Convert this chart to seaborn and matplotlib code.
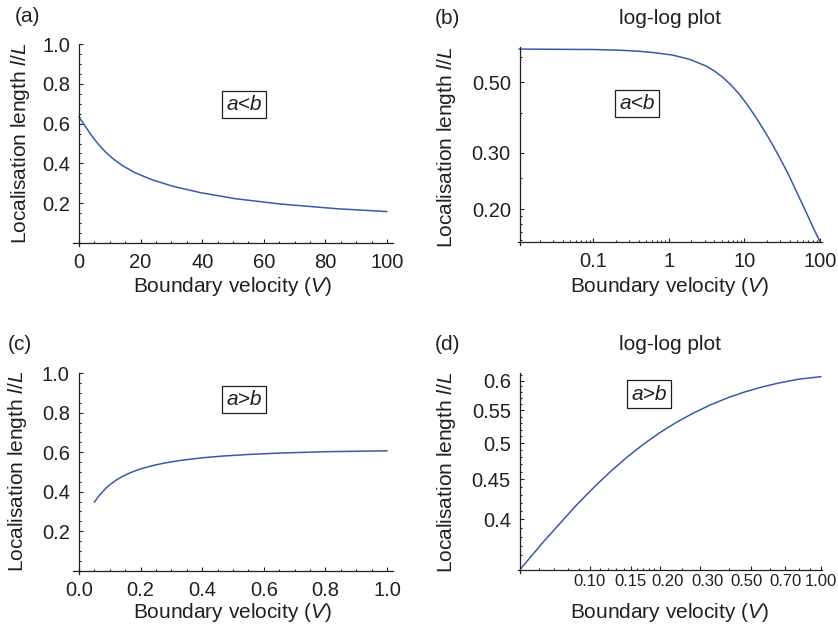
import matplotlib
matplotlib.use("Agg")
import matplotlib.pyplot as plt
import seaborn as sns
from matplotlib.ticker import MultipleLocator, FixedLocator, NullFormatter
from matplotlib.transforms import ScaledTranslation

sns.set_style("ticks")
plt.rcParams['font.family'] = ['Liberation Sans', 'DejaVu Sans']
plt.rcParams['mathtext.fontset'] = 'custom'
plt.rcParams['mathtext.rm'] = 'Liberation Sans'
plt.rcParams['mathtext.it'] = 'Liberation Sans:italic'

INK = '#231f20'
BLUE = '#3a5aa8'

# a<b curve (panels a and b)
v_lt = [0, 0.0105, 0.03, 0.1, 0.22, 0.41, 0.68, 1.13, 1.88, 3.12, 4.02, 5.17, 6.67,
        8.6, 11.1, 14.3, 18.4, 23.7, 30.5, 39.3, 50.6, 65.3, 84, 100]
l_lt = [0.635, 0.635, 0.634, 0.633, 0.630, 0.625, 0.618, 0.608, 0.590, 0.562, 0.542,
        0.518, 0.490, 0.458, 0.423, 0.387, 0.352, 0.318, 0.285, 0.2535, 0.223, 0.196,
        0.172, 0.158]

# a>b curve (panels c and d)
v_gt = [0.05, 0.0627, 0.0876, 0.105, 0.122, 0.145, 0.17, 0.2, 0.237, 0.28, 0.332,
        0.4, 0.464, 0.55, 0.648, 0.8, 1.0]
l_gt = [0.346, 0.3743, 0.4174, 0.4405, 0.4593, 0.4801, 0.498, 0.5151, 0.5313, 0.5457,
        0.5589, 0.5715, 0.5801, 0.5885, 0.5954, 0.6025, 0.607]

ylab = 'Localisation length $l/L$'
xlab = 'Boundary velocity ($V$)'

W, H = 838, 626
fig = plt.figure(figsize=(W / 100, H / 100), dpi=100)


def add_ax(left, right, top, bottom):
    # pixel box -> figure fraction
    return fig.add_axes([left / W, 1 - bottom / H, (right - left) / W, (bottom - top) / H])


def style(ax, x0, y0):
    for s in ['top', 'right']:
        ax.spines[s].set_visible(False)
    ax.spines['left'].set_position(('data', x0))
    ax.spines['bottom'].set_position(('data', y0))
    for s in ['left', 'bottom']:
        ax.spines[s].set_color(INK)
        ax.spines[s].set_linewidth(0.9)
    ax.tick_params(which='both', direction='in', color=INK, labelcolor=INK, width=0.8)
    ax.tick_params(which='major', length=3, labelsize=14.5)
    ax.tick_params(which='minor', length=1.6)
    ax.tick_params(axis='x', which='major', pad=7.5)
    ax.tick_params(axis='y', which='major', pad=6.5)
    ax.set_xlabel('')
    ax.set_ylabel('')


def box(ax, x, y, txt):
    ax.text(x, y, txt, transform=ax.transAxes, ha='center', va='center',
            fontsize=15, style='italic', color=INK,
            bbox=dict(boxstyle='square,pad=0.2', fc='white', ec=INK, lw=0.9))


# (a)
ax = add_ax(72.8, 393.2, 44, 246)
sns.lineplot(x=v_lt, y=l_lt, ax=ax, color=BLUE, lw=1.1)
ax.set_xlim(-2, 102)
ax.set_ylim(-0.015, 1.0)
ax.set_xticks([0, 20, 40, 60, 80, 100])
ax.xaxis.set_minor_locator(MultipleLocator(5))
ax.set_yticks([0.2, 0.4, 0.6, 0.8, 1.0], ['0.2', '0.4', '0.6', '0.8', '1.0'])
ax.yaxis.set_minor_locator(MultipleLocator(0.05))
style(ax, 0, 0)
box(ax, 0.535, 0.70, 'a<b')

# (b)
ax = add_ax(518, 821.6, 46.7, 245)
sns.lineplot(x=v_lt[1:], y=l_lt[1:], ax=ax, color=BLUE, lw=1.1)
ax.set_xscale('log')
ax.set_yscale('log')
ax.set_xlim(0.0102, 105)
ax.set_ylim(0.1543, 0.646)
ax.set_xticks([0.1, 1, 10, 100], ['0.1', '1', '10', '100'])
ax.xaxis.set_minor_locator(FixedLocator(
    [m * d for d in [0.01, 0.1, 1, 10] for m in range(2, 10)]))
ax.xaxis.set_minor_formatter(NullFormatter())
ax.set_yticks([0.2, 0.3, 0.5], ['0.20', '0.30', '0.50'])
ax.yaxis.set_minor_locator(FixedLocator([0.16, 0.17, 0.18, 0.19, 0.25, 0.4, 0.6]))
ax.yaxis.set_minor_formatter(NullFormatter())
style(ax, 0.0108, 0.158)
box(ax, 0.392, 0.715, 'a<b')

# (c)
ax = add_ax(72.7, 393.3, 373.3, 573.5)
sns.lineplot(x=v_gt, y=l_gt, ax=ax, color=BLUE, lw=1.1)
ax.set_xlim(-0.02, 1.02)
ax.set_ylim(-0.015, 1.0)
ax.set_xticks([0, 0.2, 0.4, 0.6, 0.8, 1.0], ['0.0', '0.2', '0.4', '0.6', '0.8', '1.0'])
ax.xaxis.set_minor_locator(MultipleLocator(0.05))
ax.set_yticks([0.2, 0.4, 0.6, 0.8, 1.0], ['0.2', '0.4', '0.6', '0.8', '1.0'])
ax.yaxis.set_minor_locator(MultipleLocator(0.05))
style(ax, 0, 0)
box(ax, 0.535, 0.87, 'a>b')

# (d)
ax = add_ax(518, 821.7, 373.3, 573)
sns.lineplot(x=v_gt, y=l_gt, ax=ax, color=BLUE, lw=1.1)
ax.set_xscale('log')
ax.set_yscale('log')
ax.set_xlim(0.0488, 1.007)
ax.set_ylim(0.342, 0.613)
ax.set_xticks([0.1, 0.15, 0.2, 0.3, 0.5, 0.7, 1.0],
              ['0.10', '0.15', '0.20', '0.30', '0.50', '0.70', '1.00'])
ax.xaxis.set_minor_locator(FixedLocator(
    [0.06, 0.07, 0.08, 0.09, 0.11, 0.12, 0.13, 0.14, 0.16, 0.17, 0.18, 0.19,
     0.25, 0.4, 0.6, 0.8, 0.9]))
ax.xaxis.set_minor_formatter(NullFormatter())
ax.set_yticks([0.4, 0.45, 0.5, 0.55, 0.6], ['0.4', '0.45', '0.5', '0.55', '0.6'])
ax.yaxis.set_minor_locator(FixedLocator(
    [x / 100 for x in range(35, 62) if x % 5 != 0]))
ax.yaxis.set_minor_formatter(NullFormatter())
style(ax, 0.0497, 0.345)
ax.tick_params(axis='x', which='major', labelsize=12, pad=3)
# crowded labels sit a little off their ticks, as in the original
shift = {'0.20': 8, '0.30': 7, '0.50': -5}
for lab in ax.get_xticklabels():
    dx = shift.get(lab.get_text(), 0)
    if dx:
        lab.set_transform(lab.get_transform() + ScaledTranslation(dx / 100, 0, fig.dpi_scale_trans))
box(ax, 0.4326, 0.896, 'a>b')

# labels and titles
for x, y, t in [(15, 17, '(a)'), (435, 18, '(b)'), (8, 344, '(c)'), (435, 344, '(d)')]:
    fig.text(x / W, 1 - y / H, t, ha='left', va='center', fontsize=15, color=INK)
for y in [18, 345]:
    fig.text(670 / W, 1 - y / H, 'log-log plot', ha='center', va='center', fontsize=15, color=INK)
for x, y in [(20, 143), (446.5, 147.5), (18, 471.5), (446.5, 472.5)]:
    fig.text(x / W, 1 - y / H, ylab, rotation=90, ha='center', va='center',
             fontsize=15, color=INK)
for x, y in [(233, 287), (670, 287), (232.5, 612), (670, 612.5)]:
    fig.text(x / W, 1 - y / H, xlab, ha='center', va='center', fontsize=15, color=INK)

fig.savefig('out.png', dpi=100)
